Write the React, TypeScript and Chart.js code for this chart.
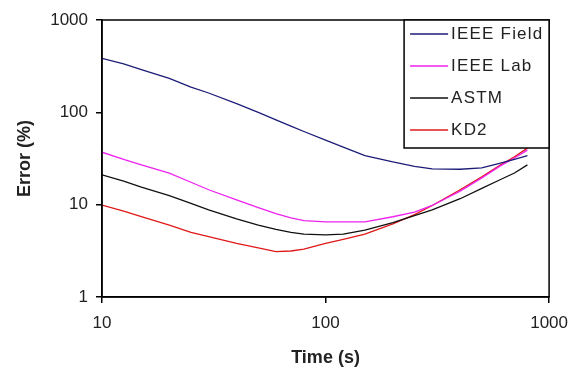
import { useEffect, useRef } from 'react';
import { Chart, registerables } from 'chart.js';
Chart.register(...registerables);

const TIME = [10, 12.5, 15, 20, 25, 30, 40, 50, 60, 70, 80, 100, 120, 150, 200, 250, 300, 400, 500, 600, 700, 800];
const IEEE_FIELD = [385, 335, 290, 233, 188, 162, 124, 100, 83, 71, 62, 50, 42, 34, 29, 26, 24.4, 24.2, 25, 28, 31, 34];
const IEEE_LAB = [37, 31, 27, 22, 17.5, 14.5, 11.3, 9.3, 8.0, 7.2, 6.7, 6.5, 6.5, 6.5, 7.4, 8.3, 9.8, 14, 19.5, 26, 32, 39];
const ASTM = [21, 18, 15.5, 12.5, 10.3, 8.8, 7.0, 6.0, 5.4, 5.0, 4.8, 4.7, 4.8, 5.3, 6.4, 7.6, 8.8, 11.6, 15, 18.5, 22, 27];
const KD2 = [9.9, 8.5, 7.4, 6.0, 5.0, 4.5, 3.8, 3.4, 3.1, 3.15, 3.3, 3.8, 4.2, 4.8, 6.2, 7.8, 9.8, 14.5, 20, 26.5, 33, 41];

const SERIES_LABELS = ['IEEE Field', 'IEEE Lab', 'ASTM', 'KD2'];
const SERIES_VALUES = [IEEE_FIELD, IEEE_LAB, ASTM, KD2];
const SERIES_COLORS = ['#1c1c78', '#ee22ee', '#111111', '#e01818'];
const X_TICKS = [10, 100, 1000];
const Y_TICKS = [1, 10, 100, 1000];
const X_TITLE = 'Time (s)';
const Y_TITLE = 'Error (%)';

const FONT = 'Liberation Sans, Arial, sans-serif';

export default function App() {
  const ref = useRef<HTMLCanvasElement | null>(null);
  useEffect(() => {
    if (!ref.current) return;
    const framePlugin = {
      id: 'frame',
      afterDraw(chart: any) {
        const { ctx, chartArea: a } = chart;
        ctx.save();
        ctx.strokeStyle = '#000';
        ctx.lineWidth = 1.5;
        ctx.strokeRect(a.left, a.top, a.right - a.left, a.bottom - a.top);
        // legend box
        const bw = 145, bh = 128;
        const bx = a.right - bw, by = a.top;
        ctx.fillStyle = '#fff';
        ctx.fillRect(bx, by, bw, bh);
        ctx.strokeRect(bx, by, bw, bh);
        ctx.font = `17px ${FONT}`;
        try { (ctx as any).letterSpacing = '1.2px'; } catch (e) { /* ignore */ }
        ctx.textBaseline = 'middle';
        ctx.textAlign = 'left';
        chart.data.datasets.forEach((ds: any, i: number) => {
          const y = by + 14 + i * 32;
          ctx.strokeStyle = ds.borderColor;
          ctx.lineWidth = 1.5;
          ctx.beginPath();
          ctx.moveTo(bx + 6, y);
          ctx.lineTo(bx + 44, y);
          ctx.stroke();
          ctx.fillStyle = '#222';
          ctx.fillText(ds.label, bx + 47, y);
        });
        try { (ctx as any).letterSpacing = '0px'; } catch (e) { /* ignore */ }
        ctx.restore();
      },
    };
    const chart = new Chart(ref.current, {
      type: 'line',
      data: {
        datasets: SERIES_LABELS.map((label, i) => ({
          label,
          data: TIME.map((t, j) => ({ x: t, y: SERIES_VALUES[i][j] })),
          borderColor: SERIES_COLORS[i],
          backgroundColor: SERIES_COLORS[i],
          borderWidth: 1.3,
          pointRadius: 0,
          tension: 0,
          fill: false,
        })),
      },
      options: {
        animation: false,
        responsive: false,
        maintainAspectRatio: false,
        layout: { padding: { left: 0, top: 20, right: 28, bottom: 0 } },
        plugins: { legend: { display: false }, tooltip: { enabled: false } },
        scales: {
          x: {
            type: 'logarithmic',
            min: 10,
            max: 1000,
            afterBuildTicks: (s: any) => { s.ticks = X_TICKS.map((v) => ({ value: v })); },
            afterFit: (s: any) => { s.height = 72; },
            ticks: {
              autoSkip: false,
              maxRotation: 0,
              padding: 10,
              color: '#222',
              font: { family: FONT, size: 17 },
              callback: (v: any) => String(v),
            },
            grid: { drawOnChartArea: false, drawTicks: true, tickLength: 6, color: '#000', lineWidth: 1.5 },
            border: { display: true, color: '#000', width: 1.5 },
            title: {
              display: true,
              text: X_TITLE,
              color: '#222',
              font: { family: FONT, size: 18, weight: 'bold' },
              padding: { top: 0, bottom: 0 },
            },
          },
          y: {
            type: 'logarithmic',
            min: 1,
            max: 1000,
            afterBuildTicks: (s: any) => { s.ticks = Y_TICKS.map((v) => ({ value: v })); },
            afterFit: (s: any) => { s.width = 102; },
            ticks: {
              autoSkip: false,
              padding: 8,
              color: '#222',
              font: { family: FONT, size: 17 },
              callback: (v: any) => String(v),
            },
            grid: { drawOnChartArea: false, drawTicks: true, tickLength: 6, color: '#000', lineWidth: 1.5 },
            border: { display: true, color: '#000', width: 1.5 },
            title: {
              display: true,
              text: Y_TITLE,
              color: '#222',
              font: { family: FONT, size: 18, weight: 'bold' },
              padding: { top: 14, bottom: 0 },
            },
          },
        },
      },
      plugins: [framePlugin],
    });
    return () => chart.destroy();
  }, []);
  return (
    <div style={{ position: 'fixed', left: 0, top: 0, width: 578, height: 369, background: '#fff' }}>
      <canvas ref={ref} width={578} height={369} style={{ width: 578, height: 369, display: 'block' }} />
    </div>
  );
}
